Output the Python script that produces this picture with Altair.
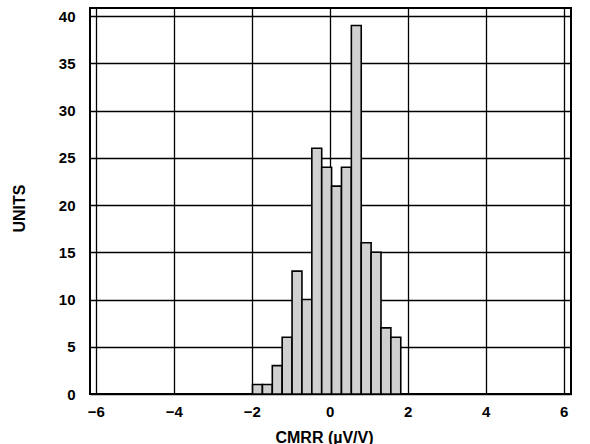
import altair as alt
import pandas as pd

# Histogram of CMRR over the units tested
bin_start = -1.98
bin_width = 0.2535
counts = [1, 1, 3, 6, 13, 10, 26, 24, 22, 24, 39, 16, 15, 7, 6]

x_ticks = [-6, -4, -2, 0, 2, 4, 6]
y_ticks = [0, 5, 10, 15, 20, 25, 30, 35, 40]

lo = [bin_start + i * bin_width for i in range(len(counts))]
df = pd.DataFrame({
    "lo": lo,
    "hi": [v + bin_width for v in lo],
    "count": counts,
    "base": [0] * len(counts),
})

FONT = "Liberation Sans"

chart = alt.Chart(df).mark_rect(
    fill="#d0d0d0", stroke="black", strokeWidth=1.6
).encode(
    x=alt.X("lo:Q",
            scale=alt.Scale(domain=[-6.15, 6.19], nice=False, zero=False),
            axis=alt.Axis(values=x_ticks, title="CMRR (µV/V)", format="d",
                          labelPadding=10,
                          titleX=234, titleY=35, titleBaseline="top",
                          titleAlign="center")),
    x2="hi:Q",
    y=alt.Y("count:Q",
            scale=alt.Scale(domain=[0, 40.85], nice=False),
            axis=alt.Axis(values=y_ticks, title="UNITS", format="d",
                          labelPadding=15,
                          titleX=-71, titleY=200, titleBaseline="middle",
                          titleAlign="center", titleAngle=270)),
    y2="base:Q",
).properties(
    width=481,
    height=386,
    autosize=alt.AutoSizeParams(type="none"),
    padding={"left": 90, "top": 8, "right": 19, "bottom": 50},
).configure_view(
    stroke="black", strokeWidth=2
).configure_axis(
    grid=True,
    gridColor="black",
    gridWidth=1.3,
    gridOpacity=1,
    domain=False,
    ticks=False,
    labelFont=FONT,
    labelFontSize=15,
    labelFontWeight="bold",
    labelColor="black",
    titleFont=FONT,
    titleFontSize=16,
    titleFontWeight="bold",
    titleColor="black",
)

chart.save("out.html", embed_options={"renderer": "svg", "actions": False})
